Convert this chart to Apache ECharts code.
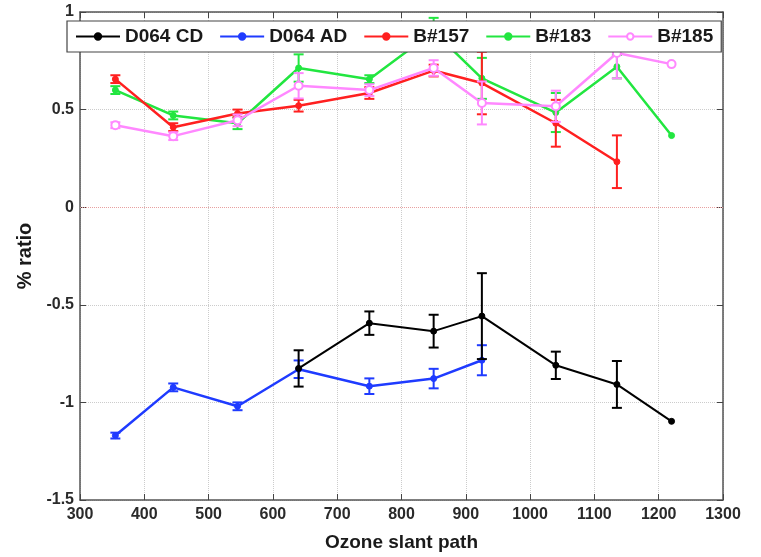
<!DOCTYPE html>
<html><head><meta charset="utf-8">
<script src="https://cdn.jsdelivr.net/npm/echarts@6/dist/echarts.min.js"></script>
<style>html,body{margin:0;padding:0;background:#fff}#c{width:761px;height:557px}</style>
</head><body><div id="c"></div>
<script>
// ---- data ----
const xTicks = [300,400,500,600,700,800,900,1000,1100,1200,1300];
const xCD = [640,750,850,925,1040,1135,1220];
const valCD = [-0.826,-0.594,-0.635,-0.558,-0.81,-0.908,-1.097];
const errCD = [0.093,0.06,0.084,0.22,0.07,0.12,0];
const xAD = [355,445,545,640,750,850,925];
const valAD = [-1.17,-0.923,-1.02,-0.83,-0.917,-0.878,-0.784];
const errAD = [0.015,0.02,0.02,0.045,0.04,0.05,0.077];
const x157 = [355,445,545,640,750,850,925,1040,1135];
const val157 = [0.656,0.41,0.48,0.52,0.585,0.70,0.636,0.43,0.233];
const err157 = [0.02,0.02,0.02,0.03,0.03,0.03,0.16,0.12,0.135];
const x183 = [355,445,545,640,750,850,925,1040,1135,1220];
const val183 = [0.60,0.47,0.43,0.713,0.656,0.90,0.66,0.485,0.72,0.367];
const err183 = [0.02,0.02,0.03,0.07,0.02,0.07,0.105,0.1,0.06,0];
const x185 = [355,445,545,640,750,850,925,1040,1135,1220];
const val185 = [0.42,0.364,0.445,0.622,0.60,0.713,0.534,0.517,0.79,0.733];
const err185 = [0.015,0.02,0.03,0.065,0.03,0.04,0.11,0.08,0.13,0];

const seriesDefs = [
  {name:'D064 AD', x:xAD, v:valAD, e:errAD, color:'#1f3bff', sym:'circle', z:3},
  {name:'B#183', x:x183, v:val183, e:err183, color:'#22e640', sym:'circle', z:4},
  {name:'B#157', x:x157, v:val157, e:err157, color:'#ff2020', sym:'circle', z:5},
  {name:'B#185', x:x185, v:val185, e:err185, color:'#ff88ff', sym:'emptyCircle', z:6},
  {name:'D064 CD', x:xCD, v:valCD, e:errCD, color:'#000000', sym:'circle', z:7}
];
const legendOrder = ['D064 CD','D064 AD','B#157','B#183','B#185'];

const font = 'Liberation Sans, Arial, sans-serif';
const series = [];
seriesDefs.forEach(d => {
  const pts = d.x.map((xx,i)=>[xx,d.v[i]]);
  const errs = d.x.map((xx,i)=>[xx,d.v[i],d.e[i]]);
  series.push({
    name: d.name+' err', type:'custom', z:d.z, clip:true,
    data: errs, encode:{x:0,y:1},
    renderItem: function(params, api){
      const x = api.value(0), y = api.value(1), e = api.value(2);
      if (!e) return null;
      const t = api.coord([x, y+e]), b = api.coord([x, y-e]);
      const h = 5;
      const st = {stroke:d.color, lineWidth:2};
      return {type:'group', children:[
        {type:'line', shape:{x1:t[0],y1:t[1],x2:b[0],y2:b[1]}, style:st},
        {type:'line', shape:{x1:t[0]-h,y1:t[1],x2:t[0]+h,y2:t[1]}, style:st},
        {type:'line', shape:{x1:b[0]-h,y1:b[1],x2:b[0]+h,y2:b[1]}, style:st}
      ]};
    },
    silent:true
  });
  series.push({
    name: d.name, type:'line', z:d.z, data: pts,
    symbol: d.sym, symbolSize: d.sym==='emptyCircle'?8:6,
    lineStyle:{color:d.color, width:d.name==='D064 CD'?2:2.5},
    itemStyle:{color:d.color, borderColor:d.color, borderWidth:d.sym==='emptyCircle'?1.5:1},
    animation:false
  });
});
// zero line
series.push({
  name:'zero', type:'line', data:[], z:1,
  markLine:{silent:true, symbol:'none', label:{show:false},
    lineStyle:{color:'#e8a0a0', type:'dotted', width:1},
    data:[{yAxis:0}]}
});

const chart = echarts.init(document.getElementById('c'));
const axisLineStyle = {color:'#555', width:1.5};
chart.setOption({
  animation:false,
  backgroundColor:'#fff',
  grid:{left:80, right:38, top:12, bottom:55},
  legend:{
    data: legendOrder, left:67, top:21,
    padding:[6,8], itemGap:16, itemWidth:44, itemHeight:8,
    borderColor:'#444', borderWidth:1.2, backgroundColor:'#fff',
    textStyle:{fontFamily:font, fontSize:19, fontWeight:'bold', color:'#1a1a1a', lineHeight:19},
    z:10
  },
  xAxis:[{
    type:'value', min:300, max:1300, interval:100,
    name:'Ozone slant path', nameLocation:'middle', nameGap:33,
    nameTextStyle:{fontFamily:font, fontSize:19, fontWeight:'bold', color:'#1a1a1a'},
    axisLine:{show:true, onZero:false, lineStyle:axisLineStyle},
    axisTick:{show:true, inside:true, length:6, lineStyle:{color:'#444'}},
    axisLabel:{fontFamily:font, fontSize:16, fontWeight:'bold', color:'#2a2a2a', margin:7,
      formatter: v => xTicks.includes(v) ? String(v) : ''},
    splitLine:{show:true, lineStyle:{color:'#ccc', type:'dotted'}}
  },{
    type:'value', position:'top', min:300, max:1300, interval:100,
    axisLine:{show:true, onZero:false, lineStyle:axisLineStyle},
    axisTick:{show:true, inside:true, length:6, lineStyle:{color:'#444'}},
    axisLabel:{show:false}, splitLine:{show:false}
  }],
  yAxis:[{
    type:'value', min:-1.5, max:1, interval:0.5,
    name:'% ratio', nameLocation:'middle', nameGap:40, nameRotate:90,
    nameTextStyle:{fontFamily:font, fontSize:20, fontWeight:'bold', color:'#1a1a1a'},
    axisLine:{show:true, onZero:false, lineStyle:axisLineStyle},
    axisTick:{show:true, inside:true, length:6, lineStyle:{color:'#444'}},
    axisLabel:{fontFamily:font, fontSize:16, fontWeight:'bold', color:'#2a2a2a', margin:6},
    splitLine:{show:true, lineStyle:{color:'#ccc', type:'dotted'}}
  },{
    type:'value', position:'right', min:-1.5, max:1, interval:0.5,
    axisLine:{show:true, onZero:false, lineStyle:axisLineStyle},
    axisTick:{show:true, inside:true, length:6, lineStyle:{color:'#444'}},
    axisLabel:{show:false}, splitLine:{show:false}
  }],
  series: series
});
</script></body></html>
